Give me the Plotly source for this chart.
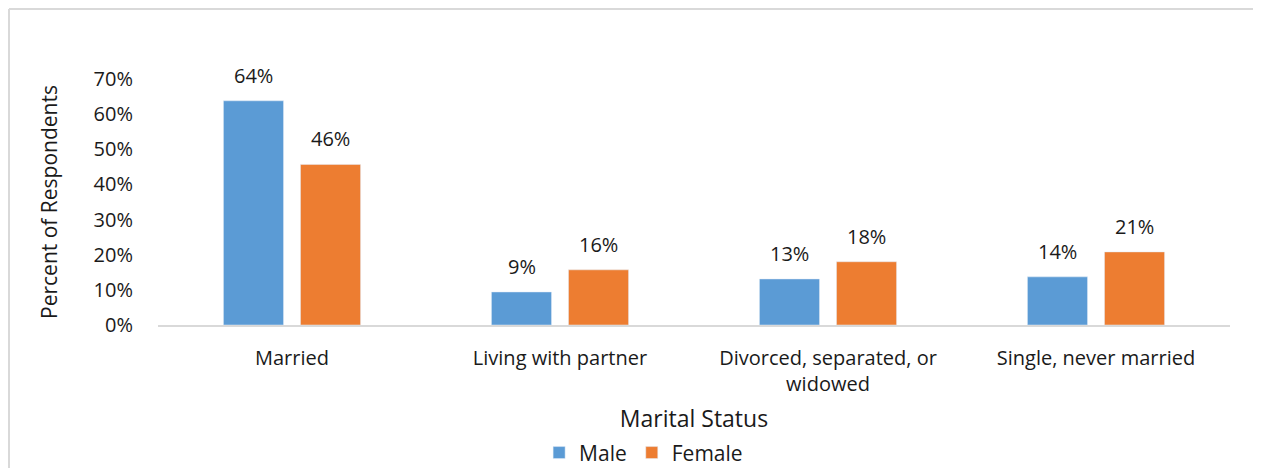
import plotly.graph_objects as go

categories = ["Married", "Living with partner", "Divorced, separated, or<br>widowed", "Single, never married"]
male = [63.8, 9.4, 13.1, 13.7]
female = [45.7, 15.7, 18.0, 20.8]
tick_vals = [0, 10, 20, 30, 40, 50, 60, 70]
tick_text = ["0%", "10%", "20%", "30%", "40%", "50%", "60%", "70%"]

FONT = "Open Sans"
TXT = "#1a1a1a"

fig = go.Figure()
fig.add_trace(go.Bar(x=categories, y=male, name="Male", marker_color="#5b9bd5"))
fig.add_trace(go.Bar(x=categories, y=female, name="Female", marker_color="#ed7d31"))

annotations = []
for series, shift in ((male, -38.5), (female, 38.5)):
    for c, v in zip(categories, series):
        annotations.append(dict(x=c, y=v, xref="x", yref="y", text=f"{v:.0f}%", showarrow=False,
                                xshift=shift, yshift=10, yanchor="bottom",
                                font=dict(size=20, family=FONT, color=TXT)))

fig.update_layout(
    width=1261, height=468,
    margin=dict(l=150, r=39, t=71, b=151, autoexpand=False),
    paper_bgcolor="white", plot_bgcolor="white",
    barmode="group", bargap=0.425, bargroupgap=0.22,
    font=dict(family=FONT, color=TXT, size=20),
    showlegend=True,
    legend=dict(orientation="h", x=0.453, xanchor="center", y=-0.52, yanchor="middle",
                font=dict(size=21, family=FONT, color=TXT), itemwidth=30),
    xaxis=dict(showline=True, linecolor="#d9d9d9", linewidth=2, ticks="", automargin=False,
               tickfont=dict(size=20, family=FONT, color=TXT), ticklabelstandoff=14,
               title=dict(text="Marital Status", font=dict(size=23, family=FONT, color=TXT), standoff=15)),
    yaxis=dict(range=[0, 70], tickvals=tick_vals, ticktext=tick_text, showgrid=False, automargin=False,
               zeroline=False, showline=False, ticks="", ticklabelstandoff=24,
               tickfont=dict(size=20, family=FONT, color=TXT),
               title=dict(text="Percent of Respondents", font=dict(size=21, family=FONT, color=TXT), standoff=30)),
    annotations=annotations,
    shapes=[
        dict(type="line", xref="paper", yref="paper", x0=-0.139, x1=-0.139, y0=-1, y1=1.2846,
             line=dict(color="#d9d9d9", width=2)),
        dict(type="line", xref="paper", yref="paper", x0=-0.139, x1=1.2, y0=1.2846, y1=1.2846,
             line=dict(color="#d9d9d9", width=2)),
    ],
)

fig.write_html("out.html")
